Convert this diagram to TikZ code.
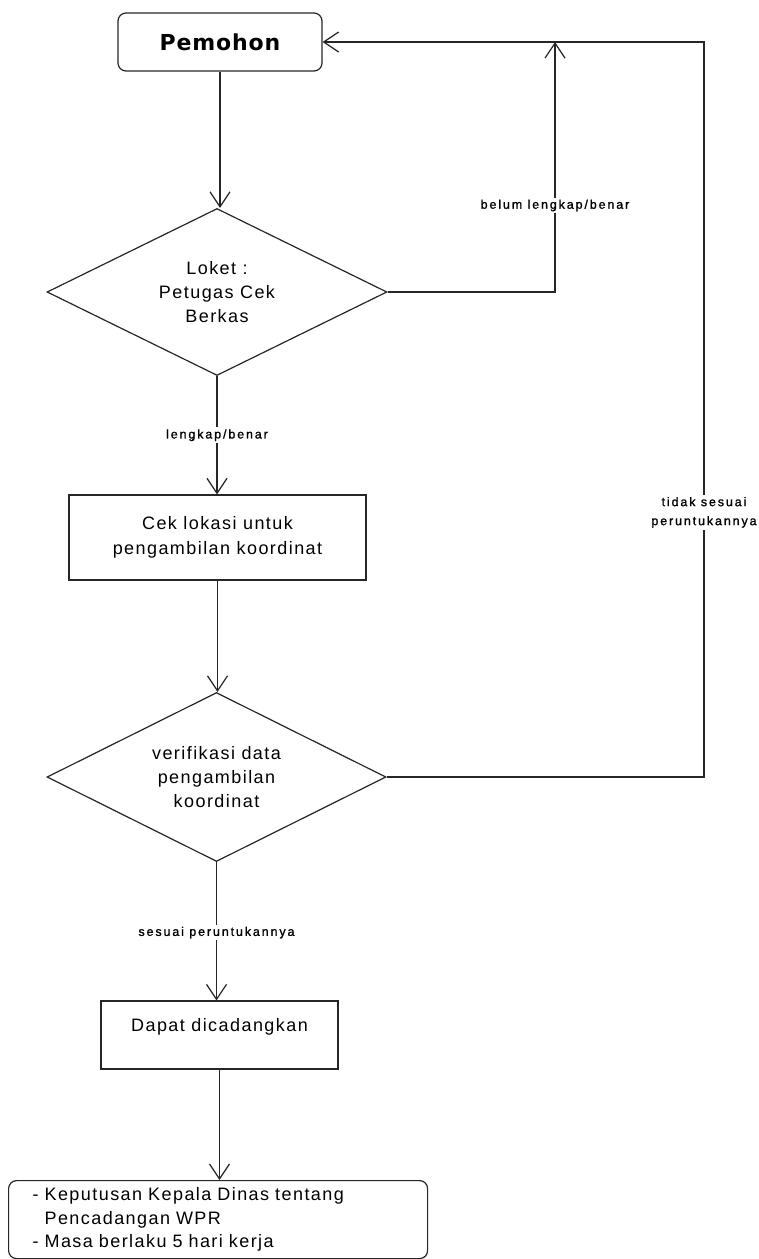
\documentclass[tikz,border=0pt]{standalone}
\usepackage{fontspec}
\setmainfont{Liberation Sans}
\newfontfamily\mainf[LetterSpace=8]{Liberation Sans}
\newfontfamily\labf[LetterSpace=15,FakeBold=1.2]{Liberation Sans}
\newfontfamily\titf[LetterSpace=4]{DejaVu Sans}
\usetikzlibrary{shapes.geometric,arrows.meta}
\begin{document}
\begin{tikzpicture}[x=1pt,y=-1pt,
  ln/.style={draw=black!85, line width=1.2pt},
  arr/.style={ln, -{Straight Barb[length=15pt,width=20pt,line width=1.2pt]}},
  box/.style={draw=black!85, line width=1.2pt, rectangle, inner sep=0pt, align=center, font={\mainf\fontsize{18}{25}\selectfont}},
  rbox/.style={box, rounded corners=8pt},
  dia/.style={draw=black!85, line width=1.2pt, diamond, aspect=2, inner sep=0pt, align=center, font={\mainf\fontsize{18}{24}\selectfont}},
  lab/.style={fill=white, inner sep=2pt, align=center, font={\labf\fontsize{12.5}{19}\selectfont}}
]
\useasboundingbox (0,0) rectangle (759,1259);
\node[rbox, minimum width=204pt, minimum height=58pt, font={\titf\bfseries\fontsize{22}{26}\selectfont}] (pem) at (220,42) {Pemohon};
\node[dia, minimum width=340pt, minimum height=167pt] (d1) at (217,292) {Loket :\\Petugas Cek\\Berkas};
\node[box, minimum width=297pt, minimum height=85pt] (r1) at (217.5,537.5) {Cek lokasi untuk\\pengambilan koordinat};
\node[dia, minimum width=339pt, minimum height=169pt] (d2) at (216.5,777) {verifikasi data\\pengambilan\\koordinat};
\node[box, minimum width=237pt, minimum height=68pt, text depth=20pt] (r2) at (219.5,1035) {Dapat dicadangkan};
\node[rbox, anchor=north west, minimum width=419pt, minimum height=78pt, text width=371pt, align=left, inner xsep=24pt, font={\mainf\fontsize{18}{23.5}\selectfont}] (kep) at (8,1180) {- Keputusan Kepala Dinas tentang\\\phantom{- }Pencadangan WPR\\- Masa berlaku 5 hari kerja};

\coordinate (j1) at (555,42);
\coordinate (j2) at (704,42);

\draw[arr] (pem.south) -- (pem.south |- d1.north);
\draw[arr] (d1.south) -- node[lab] {lengkap/benar} (d1.south |- r1.north);
\draw[arr] (r1.south) -- (r1.south |- d2.north);
\draw[arr] (d2.south) -- node[lab, pos=0.51] {sesuai peruntukannya} (d2.south |- r2.north);
\draw[arr] (r2.south) -- (r2.south |- kep.north);
\draw[arr] (d1.east) -| node[lab, pos=0.673] {belum lengkap/benar} (j1);
\draw[arr] (d2.east) -| node[lab, pos=0.68] {tidak sesuai\\peruntukannya} (j2) -- (pem.east);
\end{tikzpicture}
\end{document}
